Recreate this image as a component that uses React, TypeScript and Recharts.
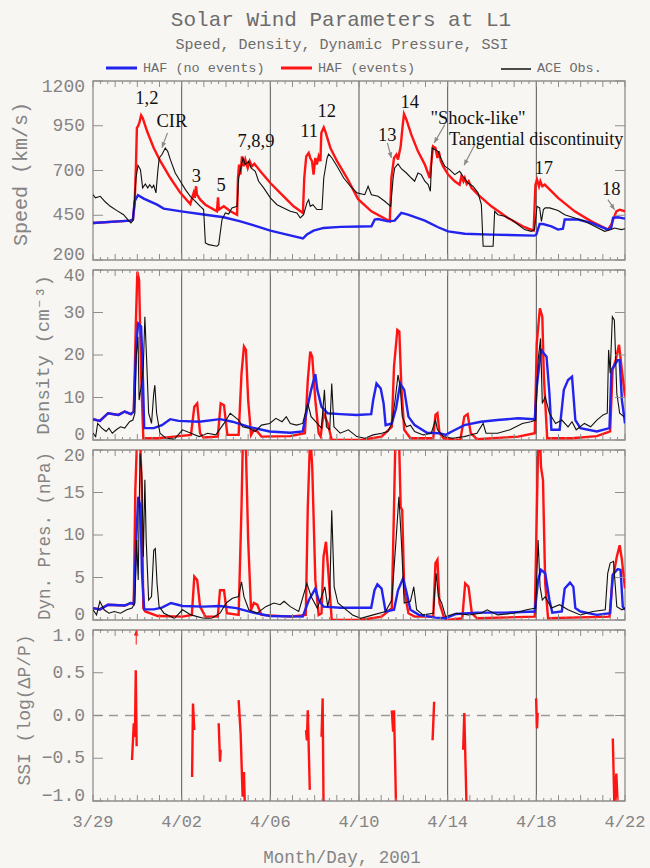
import {
  LineChart,
  Line,
  XAxis,
  YAxis,
  ReferenceLine,
  ReferenceArea,
  ReferenceDot,
} from 'recharts';

// x = days since 3/29 00:00 UT, 2001
const SPEED_NO_EVENTS: [number, number][] = [
  [0, 407], [1.68, 420], [1.8, 425], [1.88, 528], [2.03, 562], [2.29, 543], [2.89, 509], [3.19, 487],
  [3.98, 472], [4.99, 454], [5.9, 439], [6.65, 416], [7.4, 388], [8.0, 364], [8.75, 342], [9.47, 320],
  [9.65, 342], [9.95, 364], [10.4, 379], [11.16, 385], [12.06, 387], [12.56, 388], [12.71, 426],
  [12.86, 429], [13.31, 416], [13.61, 420], [13.91, 463], [14.21, 454], [14.97, 420], [15.57, 383],
  [16.02, 360], [16.77, 347], [17.97, 342], [19.92, 336], [20.0, 342], [20.15, 401], [20.3, 401],
  [20.68, 388], [20.98, 370], [21.2, 375], [21.28, 426], [21.88, 426], [22.48, 407], [23.23, 370],
  [23.38, 379], [23.46, 435], [23.68, 439], [24, 431],
];

const SPEED_EVENTS: [number, number][] = [
  [0, 407], [1.68, 420], [1.8, 425], [1.88, 519], [1.94, 733], [1.98, 938], [2.03, 947], [2.09, 966],
  [2.17, 1008], [2.24, 994], [2.44, 919], [2.74, 826], [3.04, 752], [3.49, 658], [3.94, 575], [4.39, 513],
  [4.47, 547], [4.54, 575], [4.59, 547], [4.65, 612], [4.69, 565], [4.84, 537], [5.07, 509], [5.59, 472],
  [5.64, 550], [5.68, 482], [5.9, 500], [6.2, 472], [6.5, 453], [6.54, 658], [6.59, 733], [6.65, 677],
  [6.72, 779], [6.8, 724], [6.87, 761], [6.98, 714], [7.07, 752], [7.17, 724], [7.28, 737], [7.55, 696],
  [8.0, 630], [8.6, 556], [9.05, 500], [9.47, 463], [9.53, 658], [9.62, 779], [9.73, 798], [9.8, 770],
  [9.88, 752], [9.95, 677], [10.03, 770], [10.1, 733], [10.18, 779], [10.26, 752], [10.3, 910],
  [10.41, 941], [10.48, 919], [10.71, 826], [11.01, 752], [11.46, 658], [11.96, 540], [12.56, 472],
  [13.39, 416], [13.46, 658], [13.58, 770], [13.69, 789], [13.76, 761], [13.88, 835], [13.96, 938],
  [14.03, 1016], [14.14, 984], [14.36, 900], [14.66, 807], [14.97, 733], [15.19, 658], [15.27, 752],
  [15.34, 835], [15.45, 826], [15.54, 770], [15.6, 807], [15.69, 752], [15.79, 724], [16.02, 677],
  [16.32, 640], [16.54, 621], [16.62, 668], [16.71, 640], [16.77, 658], [16.86, 625], [16.95, 640],
  [17.07, 603], [17.37, 565], [17.97, 500], [18.72, 435], [19.47, 383], [19.88, 364], [19.96, 621],
  [20.03, 649], [20.12, 612], [20.18, 640], [20.27, 612], [20.38, 621], [20.98, 547], [21.73, 472],
  [22.48, 416], [23.23, 370], [23.38, 398], [23.61, 472], [23.76, 481], [24, 472],
];

const SPEED_ACE: [number, number][] = [
  [0, 565], [0.11, 547], [0.33, 556], [0.56, 524], [0.78, 500], [1.08, 476], [1.38, 453], [1.61, 420],
  [1.71, 407], [1.8, 420], [1.86, 509], [1.94, 658], [2.03, 729], [2.14, 705], [2.24, 603], [2.36, 625],
  [2.47, 603], [2.56, 621], [2.66, 603], [2.74, 617], [2.84, 575], [2.93, 705], [2.99, 770], [3.11, 789],
  [3.26, 826], [3.37, 807], [3.49, 761], [3.71, 686], [3.94, 640], [4.17, 593], [4.39, 556], [4.62, 528],
  [4.84, 500], [4.99, 482], [5.07, 295], [5.22, 286], [5.59, 277], [5.67, 286], [5.82, 426], [5.97, 463],
  [6.12, 457], [6.27, 491], [6.5, 500], [6.57, 658], [6.65, 705], [6.77, 770], [6.87, 733], [7.02, 752],
  [7.13, 714], [7.32, 696], [7.47, 640], [7.7, 603], [8.0, 547], [8.3, 509], [8.6, 491], [8.9, 472],
  [9.2, 463], [9.35, 435], [9.5, 453], [9.65, 519], [9.73, 537], [9.8, 500], [9.92, 509], [10.1, 482],
  [10.33, 482], [10.41, 658], [10.56, 770], [10.63, 792], [10.78, 770], [11.01, 724], [11.31, 658],
  [11.61, 612], [11.91, 575], [12.26, 565], [12.41, 612], [12.56, 565], [12.86, 556], [13.16, 528],
  [13.43, 500], [13.54, 658], [13.61, 714], [13.76, 737], [13.91, 710], [14.14, 686], [14.36, 658],
  [14.51, 640], [14.66, 686], [14.81, 677], [14.97, 640], [15.12, 621], [15.22, 584], [15.3, 826],
  [15.42, 817], [15.57, 807], [15.72, 761], [15.87, 724], [16.09, 705], [16.32, 677], [16.54, 696],
  [16.69, 668], [16.92, 630], [17.14, 612], [17.37, 575], [17.52, 509], [17.6, 277], [18.05, 277],
  [18.12, 472], [18.27, 453], [18.57, 444], [18.87, 426], [19.17, 398], [19.47, 370], [19.77, 360],
  [19.92, 370], [20.03, 500], [20.15, 491], [20.23, 416], [20.32, 482], [20.4, 491], [20.6, 491],
  [20.98, 476], [21.28, 453], [21.73, 435], [22.18, 416], [22.63, 388], [23.08, 360], [23.38, 370],
  [23.53, 379], [23.83, 370], [24, 375],
];

const DENS_NO_EVENTS: [number, number][] = [
  [0, 4.9], [0.31, 4.5], [0.68, 6.3], [1.15, 5.9], [1.43, 6.7], [1.71, 6.1], [1.84, 6.7], [1.95, 22.7],
  [2.04, 27.4], [2.17, 26.7], [2.23, 18.8], [2.31, 2.8], [2.74, 2.8], [3.11, 3.5], [3.48, 4.9], [3.86, 4.5],
  [4.79, 4.3], [5.73, 4.9], [6.29, 4.3], [7.03, 3.1], [7.97, 2.0], [8.9, 1.7], [9.46, 2.0], [9.65, 7.1],
  [9.84, 11.8], [10.03, 15.5], [10.12, 11.8], [10.31, 7.8], [10.59, 6.3], [11.15, 6.1], [11.9, 5.9],
  [12.55, 6.1], [12.64, 9.4], [12.79, 13.3], [12.98, 12.1], [13.11, 8.6], [13.2, 3.5], [13.48, 3.9],
  [13.67, 7.4], [13.86, 13.3], [14.04, 11.8], [14.23, 5.5], [14.51, 3.5], [15.07, 1.7], [15.63, 1.6],
  [15.91, 1.2], [16.19, 2.0], [16.75, 3.5], [17.5, 4.3], [18.25, 4.7], [19.18, 5.1], [19.93, 4.9],
  [20.02, 12.5], [20.21, 21.2], [20.46, 19.6], [20.59, 11], [20.68, 2.4], [21.05, 2.4], [21.24, 11.8],
  [21.43, 14.1], [21.61, 14.9], [21.76, 4.7], [21.99, 2.8], [22.73, 2.0], [23.3, 2.8], [23.39, 16.5],
  [23.67, 18.8], [23.76, 18.8], [23.86, 9.4], [24, 3.9],
];

const DENS_EVENTS: [number, number][] = [
  [0, 4.9], [0.31, 4.5], [0.68, 6.3], [1.15, 5.9], [1.43, 6.7], [1.71, 6.1], [1.84, 6.7], [1.93, 26.7],
  [2.0, 39.6], [2.08, 37.6], [2.17, 15.7], [2.27, 0.4], [2.92, 0.4], [3.67, 0.8], [4.42, 1.2], [4.57, 7.8],
  [4.7, 8.6], [4.83, 1.6], [4.98, 0.6], [5.63, 0.8], [5.76, 8.6], [5.91, 8.2], [6.06, 1.2], [6.57, 1.2],
  [6.7, 15.7], [6.81, 22], [6.9, 21.2], [7.0, 9.4], [7.13, 1.2], [7.26, 2.4], [7.41, 2.0], [7.6, 0.8],
  [8.9, 0.9], [9.56, 1.6], [9.69, 14.1], [9.8, 20.8], [9.89, 19.6], [10.03, 9.4], [10.18, 1.6],
  [10.27, 0.8], [10.4, 6.3], [10.59, 3.9], [10.77, 0], [12.08, 0], [13.02, 0.8], [13.48, 3.1],
  [13.58, 17.3], [13.73, 25.9], [13.82, 25.5], [13.91, 12.5], [14.04, 2.4], [14.32, 0.4], [15.35, 0.4],
  [15.45, 5.9], [15.54, 6.3], [15.63, 1.6], [15.82, 0.4], [16.57, 0], [16.75, 5.5], [16.9, 6.1],
  [17.04, 1.6], [17.32, 0.2], [19.18, 0.8], [19.93, 1.6], [20.02, 22.7], [20.16, 31], [20.27, 29],
  [20.34, 14.9], [20.49, 0.4], [21.61, 0.4], [22.73, 0.9], [23.33, 2.0], [23.44, 16.5], [23.58, 18.8],
  [23.73, 22.4], [23.86, 16.5], [24, 10.2],
];

const DENS_ACE: [number, number][] = [
  [0, 1.6], [0.12, 0.8], [0.21, 3.9], [0.4, 2.8], [0.59, 2.0], [0.72, 2.8], [0.87, 1.6], [1.05, 2.4],
  [1.24, 3.1], [1.43, 2.8], [1.65, 4.3], [1.8, 4.7], [1.89, 6.3], [1.95, 19.6], [2.03, 24.3], [2.08, 9.4],
  [2.17, 12.5], [2.27, 17.3], [2.34, 29], [2.42, 18.8], [2.51, 6.3], [2.64, 3.9], [2.74, 11], [2.79, 12.9],
  [2.87, 6.3], [3.02, 1.6], [3.3, 0.4], [3.67, 0.2], [4.04, 2.4], [4.42, 1.6], [4.79, 0.8], [5.17, 1.6],
  [5.54, 1.2], [5.91, 3.9], [6.19, 6.3], [6.38, 5.5], [6.57, 4.7], [6.75, 3.1], [7.03, 2.8], [7.32, 2.0],
  [7.6, 3.5], [7.97, 3.9], [8.25, 5.1], [8.53, 4.3], [8.72, 5.5], [8.9, 3.9], [9.18, 3.5], [9.46, 3.9],
  [9.69, 8.6], [9.84, 5.5], [10.12, 3.9], [10.31, 2.8], [10.44, 11.8], [10.53, 3.1], [10.68, 2.4],
  [10.77, 13.3], [10.87, 3.1], [11.15, 1.6], [11.52, 2.4], [11.9, 0.8], [12.27, 0.4], [12.64, 1.2],
  [13.02, 1.6], [13.3, 2.0], [13.48, 3.9], [13.63, 9.4], [13.76, 15.3], [13.86, 12.5], [13.95, 5.5],
  [14.14, 3.1], [14.32, 3.5], [14.51, 2.0], [14.89, 1.2], [15.26, 1.6], [15.45, 4.7], [15.54, 2.4],
  [15.82, 0.8], [16.19, 0.4], [16.75, 0.8], [17.32, 1.6], [17.6, 3.9], [17.73, 1.6], [18.25, 1.6],
  [18.81, 2.4], [19.37, 3.9], [19.75, 4.3], [19.97, 4.7], [20.08, 18.8], [20.19, 23.9], [20.27, 8.6],
  [20.4, 10.2], [20.59, 6.3], [20.87, 3.9], [21.15, 4.7], [21.43, 3.1], [21.61, 4.3], [21.8, 2.4],
  [22.17, 3.9], [22.45, 3.1], [22.73, 4.7], [23.01, 5.9], [23.2, 6.3], [23.26, 21.2], [23.33, 15.7],
  [23.43, 29], [23.52, 28.2], [23.63, 11], [23.76, 6.3], [23.95, 5.5],
];

const PRES_NO_EVENTS: [number, number][] = [
  [0, 1.4], [0.31, 1.25], [0.68, 1.8], [1.43, 1.7], [1.71, 2.0], [1.84, 1.9], [1.95, 9.4], [2.04, 14.5],
  [2.14, 13.3], [2.21, 5.5], [2.31, 1.25], [2.74, 1.25], [3.11, 1.45], [3.52, 2.0], [4.04, 1.65],
  [4.98, 1.57], [5.73, 1.65], [6.47, 1.4], [7.22, 0.87], [7.97, 0.47], [9.46, 0.4], [9.74, 2.35],
  [10.03, 3.7], [10.18, 2.35], [10.4, 1.57], [11.15, 1.45], [12.55, 1.45], [12.7, 3.5], [12.83, 4.2],
  [13.02, 3.7], [13.2, 1.0], [13.58, 1.2], [13.76, 3.5], [13.99, 4.9], [14.14, 3.3], [14.32, 1.2],
  [14.7, 0.6], [15.45, 0.28], [15.91, 0.2], [16.38, 0.71], [17.32, 0.87], [18.62, 0.87], [19.93, 1.0],
  [20.08, 4.7], [20.21, 5.9], [20.4, 5.5], [20.59, 2.35], [20.72, 0.87], [21.15, 1.0], [21.28, 3.7],
  [21.52, 4.4], [21.67, 3.9], [21.76, 1.4], [21.99, 1.0], [22.73, 0.6], [23.33, 0.8], [23.44, 5.3],
  [23.67, 6.0], [23.8, 5.9], [23.9, 1.57], [24, 1.2],
];

const PRES_EVENTS: [number, number][] = [
  [0, 1.4], [0.31, 1.25], [0.68, 1.8], [1.43, 1.7], [1.71, 2.0], [1.84, 1.9], [1.91, 15.3], [1.97, 20],
  [2.03, 25], [2.12, 22], [2.2, 15.3], [2.27, 1.4], [2.36, 1.0], [2.92, 0.47], [4.04, 0.4], [4.46, 0.6],
  [4.57, 5.1], [4.7, 4.7], [4.83, 1.57], [5.07, 0.4], [5.63, 0.4], [5.73, 3.5], [5.91, 3.5], [6.04, 0.8],
  [6.57, 0.6], [6.7, 13.3], [6.79, 25], [6.88, 22], [7.0, 9.4], [7.13, 1.2], [7.26, 2.0], [7.41, 1.8],
  [7.6, 0.6], [8.9, 0.4], [9.6, 0.6], [9.69, 13.3], [9.8, 22], [9.89, 18], [10.03, 4.7], [10.18, 0.6],
  [10.31, 0.8], [10.4, 7.45], [10.51, 9.2], [10.62, 5.5], [10.77, 0], [12.08, 0], [13.02, 0.4],
  [13.48, 1.4], [13.58, 13.3], [13.67, 25], [13.8, 22], [13.88, 13.3], [13.95, 12.9], [14.04, 3.5],
  [14.23, 0.8], [14.51, 0.4], [15.35, 0.4], [15.45, 6.7], [15.54, 7.1], [15.63, 2.0], [15.82, 0.4],
  [16.01, 0], [16.66, 0.2], [16.79, 4.3], [16.94, 3.9], [17.09, 0.8], [17.32, 0.2], [19.93, 0.4],
  [20.04, 15.3], [20.12, 25], [20.21, 18], [20.3, 16.5], [20.4, 4.3], [20.53, 0.2], [23.3, 0.4],
  [23.44, 4.7], [23.63, 7.45], [23.76, 8.8], [23.86, 7.1], [24, 3.7],
];

const PRES_ACE: [number, number][] = [
  [0, 1.2], [0.16, 0.6], [0.31, 2.2], [0.5, 1.2], [0.72, 0.8], [0.96, 1.0], [1.24, 0.8], [1.52, 1.2],
  [1.76, 1.4], [1.89, 2.0], [1.97, 9.4], [2.04, 4.7], [2.12, 19.6], [2.2, 17.3], [2.27, 7.45], [2.34, 16.5],
  [2.4, 9.4], [2.51, 2.35], [2.64, 2.75], [2.74, 8.2], [2.81, 8.4], [2.89, 4.3], [2.98, 1.57], [3.2, 0.8],
  [3.67, 0.2], [4.04, 1.2], [4.42, 0.6], [4.98, 0.2], [5.35, 0.2], [5.73, 0.8], [6.01, 2.0], [6.29, 2.55],
  [6.57, 2.75], [6.7, 4.5], [6.81, 2.75], [7.03, 1.2], [7.41, 0.8], [7.79, 1.57], [8.16, 2.0], [8.44, 1.8],
  [8.62, 2.2], [8.9, 1.57], [9.28, 1.0], [9.65, 4.3], [9.84, 2.75], [10.12, 1.4], [10.31, 2.75],
  [10.46, 3.9], [10.59, 1.57], [10.68, 2.75], [10.77, 12.9], [10.88, 3.9], [11.05, 2.0], [11.33, 1.4],
  [11.71, 0.6], [12.08, 0.2], [12.64, 0.6], [13.2, 1.0], [13.48, 2.35], [13.67, 9.4], [13.8, 14.5],
  [13.91, 9.4], [14.04, 2.0], [14.32, 2.2], [14.47, 3.9], [14.6, 1.2], [14.89, 0.6], [15.35, 0.8],
  [15.48, 5.5], [15.58, 2.75], [15.73, 2.0], [15.91, 0.4], [16.38, 0.8], [16.94, 0.6], [17.5, 0.8],
  [17.78, 1.2], [18.25, 0.6], [18.99, 0.8], [19.56, 1.2], [19.97, 1.4], [20.08, 9.4], [20.17, 3.9],
  [20.27, 2.35], [20.4, 2.75], [20.68, 1.4], [21.05, 1.8], [21.43, 1.2], [21.99, 0.6], [22.55, 1.0],
  [23.11, 1.2], [23.22, 5.5], [23.33, 6.7], [23.48, 6.9], [23.63, 1.57], [23.86, 1.2], [24, 1.4],
];

// SSI: one short trace per event
const SSI_EVENTS: [number, number][][] = [
  [[1.76, -0.52], [1.84, -0.09], [1.89, -0.25], [1.93, 0.53], [1.97, -0.36]],
  [[4.47, -0.72], [4.51, 0.14], [4.57, -0.17]],
  [[5.67, -0.09], [5.73, -0.54], [5.76, -0.4]],
  [[6.57, 0.18], [6.66, -0.21], [6.75, -0.95], [6.81, -0.66], [6.85, -1.05]],
  [[9.61, -0.17], [9.65, -0.29], [9.69, 0.06], [9.78, -0.87]],
  [[10.31, -0.25], [10.36, 0.2], [10.4, -1.05]],
  [[13.48, 0.06], [13.54, -0.19], [13.58, 0.06], [13.67, -1.05]],
  [[15.32, -0.29], [15.39, 0.16]],
  [[16.7, -0.4], [16.75, 0.03], [16.85, -1.05]],
  [[19.99, 0.2], [20.03, -0.15], [20.06, 0.03]],
  [[23.45, -0.27], [23.52, -1.05], [23.61, -0.68], [23.67, -1.05]],
];
const SSI_OFFSCALE = [1.95, 0.83, 1.0];

const DAY_LINES = [4, 8, 12, 16, 20];
const DATE_DAYS = [0, 4, 8, 12, 16, 20, 24];
const DATE_LABELS = ['3/29', '4/02', '4/06', '4/10', '4/14', '4/18', '4/22'];
const X_TICKS = Array.from({ length: 73 }, (_, i) => i / 3);

const SPEED_TICKS = [200, 450, 700, 950, 1200];
const DENS_TICKS = [0, 10, 20, 30, 40];
const PRES_TICKS = [0, 5, 10, 15, 20];
const SSI_TICKS = [-1, -0.5, 0, 0.5, 1];
const SSI_TICK_LABELS = ['\u22121.0', '\u22120.5', '0.0', '0.5', '1.0'];

// speed-panel annotations: [day, km/s, text]
const SPEED_NOTES: [number, number, string][] = [
  [2.43, 1105, '1,2'], [3.56, 975, 'CIR'], [4.66, 671, '3'], [5.78, 617, '5'], [7.35, 866, '7,8,9'],
  [9.75, 919, '11'], [10.55, 1031, '12'], [13.28, 900, '13'], [14.29, 1081, '14'],
  [17.37, 993, '"Shock-like"'], [20.33, 714, '17'], [23.38, 597, '18'],
];
const TANGENTIAL_NOTE: [number, number, string] = [16.06, 876, 'Tangential discontinuity'];
// arrows: [day0, v0, day1, v1] (head at the second point)
const SPEED_ARROWS: [number, number, number, number][] = [
  [3.36, 910, 3.11, 827], [13.28, 854, 13.46, 770], [15.87, 956, 15.39, 854],
  [17.22, 844, 16.74, 729], [23.23, 537, 23.53, 481],
];

const BG = '#f8f6f3';
const FRAME = '#8e8e8e';
const GRID = '#555555';
const TXT = '#848484';
const BLUE = '#2323ee';
const RED = '#ff1414';
const MONO = '"Liberation Mono", "DejaVu Sans Mono", monospace';
const SERIF = '"Liberation Serif", "DejaVu Serif", serif';

const W = 650;
const LEFT = 93;
const RIGHT = 25;
const PLOT_W = W - LEFT - RIGHT;
const MT = 10;

const toPts = (arr: [number, number][]) => arr.map(([d, v]) => ({ d, v }));

interface PanelCfg {
  top: number;
  h: number;
  domain: [number, number];
  ticks: number[];
  labels?: string[];
}

const P_SPEED: PanelCfg = { top: 81, h: 179, domain: [200, 1200], ticks: SPEED_TICKS };
const P_DENS: PanelCfg = { top: 270, h: 170, domain: [0, 40], ticks: DENS_TICKS };
const P_PRES: PanelCfg = { top: 450, h: 170, domain: [0, 20], ticks: PRES_TICKS };
const P_SSI: PanelCfg = { top: 630, h: 171, domain: [-1, 1], ticks: SSI_TICKS, labels: SSI_TICK_LABELS };

function XTick(props: any) {
  const { x, y, payload, h, last } = props;
  const v = payload.value as number;
  const i = Math.round(v * 3);
  const len = i % 3 === 0 ? 6 : 3;
  const di = DATE_DAYS.findIndex((d) => Math.abs(d - v) < 1e-6);
  return (
    <g>
      <line x1={x} x2={x} y1={y} y2={y - len} stroke={FRAME} strokeWidth={1} />
      <line x1={x} x2={x} y1={y - h} y2={y - h + len} stroke={FRAME} strokeWidth={1} />
      {last && di >= 0 && (
        <text x={x} y={y + 21} textAnchor="middle" dominantBaseline="central" fill={TXT} fontFamily={MONO} fontSize={17}>
          {DATE_LABELS[di]}
        </text>
      )}
    </g>
  );
}

function YTick(props: any) {
  const { x, y, payload, cfg } = props;
  const v = payload.value as number;
  const idx = cfg.ticks.indexOf(v);
  const text = cfg.labels ? cfg.labels[idx] : String(v);
  let dy = 0;
  if (idx === cfg.ticks.length - 1) dy = 6;
  if (idx === 0) dy = -5;
  return (
    <g>
      <line x1={x} x2={x + 10} y1={y} y2={y} stroke={FRAME} strokeWidth={1} />
      <line x1={x + PLOT_W - 10} x2={x + PLOT_W} y1={y} y2={y} stroke={FRAME} strokeWidth={1} />
      <text x={x - 8} y={y + dy} textAnchor="end" dominantBaseline="central" fill={TXT} fontFamily={MONO} fontSize={18}>
        {text}
      </text>
    </g>
  );
}

const arrowShape = (color: string, width: number) => (p: any) => {
  const { x1, y1, x2, y2 } = p;
  const a = Math.atan2(y2 - y1, x2 - x1);
  const hl = 6;
  const ha = 0.4;
  const pts = `${x2},${y2} ${x2 - hl * Math.cos(a - ha)},${y2 - hl * Math.sin(a - ha)} ${x2 - hl * Math.cos(a + ha)},${y2 - hl * Math.sin(a + ha)}`;
  return (
    <g>
      <line x1={x1} y1={y1} x2={x2} y2={y2} stroke={color} strokeWidth={width} />
      <polygon points={pts} fill={color} stroke="none" />
    </g>
  );
};

function Panel({ cfg, last, children }: { cfg: PanelCfg; last?: boolean; children: any }) {
  const mb = last ? 60 : 12;
  // axes are 1px wide/tall (zero-size axes are not drawn), so margins give back that pixel
  return (
    <div style={{ position: 'absolute', left: 0, top: cfg.top - MT }}>
      <LineChart width={W} height={MT + cfg.h + mb} margin={{ top: MT, right: RIGHT, bottom: mb - 1, left: LEFT - 1 }}>
        <XAxis
          type="number"
          dataKey="d"
          domain={[0, 24]}
          ticks={X_TICKS}
          interval={0}
          height={1}
          axisLine={false}
          tickLine={false}
          tickSize={0}
          tickMargin={0}
          allowDataOverflow
          tick={(p: any) => <XTick {...p} h={cfg.h} last={last} />}
        />
        <YAxis
          type="number"
          domain={cfg.domain}
          ticks={cfg.ticks}
          interval={0}
          width={1}
          axisLine={false}
          tickLine={false}
          tickSize={0}
          tickMargin={0}
          allowDataOverflow
          tick={(p: any) => <YTick {...p} cfg={cfg} />}
        />
        {DAY_LINES.map((d) => (
          <ReferenceLine key={d} x={d} stroke={GRID} strokeWidth={1} />
        ))}
        <ReferenceArea
          x1={0}
          x2={24}
          y1={cfg.domain[0]}
          y2={cfg.domain[1]}
          fill="none"
          fillOpacity={0}
          stroke={FRAME}
          strokeWidth={1.3}
          ifOverflow="visible"
        />
        {children}
      </LineChart>
    </div>
  );
}

const series = (data: [number, number][], color: string, width: number, key: string) => (
  <Line
    key={key}
    data={toPts(data)}
    dataKey="v"
    type="linear"
    stroke={color}
    strokeWidth={width}
    dot={false}
    activeDot={false}
    isAnimationActive={false}
  />
);

export default function App() {
  return (
    <div style={{ position: 'absolute', left: 0, top: 0, width: W, height: 868, background: BG, overflow: 'hidden' }}>
      <svg width={W} height={868} style={{ position: 'absolute', left: 0, top: 0 }}>
        <text x={341} y={20} textAnchor="middle" dominantBaseline="central" fill="#6c6c6c" fontFamily={MONO} fontSize={21}>
          Solar Wind Parameters at L1
        </text>
        <text x={342} y={45} textAnchor="middle" dominantBaseline="central" fill="#6c6c6c" fontFamily={MONO} fontSize={15}>
          Speed, Density, Dynamic Pressure, SSI
        </text>
        <line x1={106} x2={137} y1={68} y2={68} stroke={BLUE} strokeWidth={3} />
        <text x={143} y={68} dominantBaseline="central" fill="#6c6c6c" fontFamily={MONO} fontSize={13.5}>
          HAF (no events)
        </text>
        <line x1={281} x2={312} y1={68} y2={68} stroke={RED} strokeWidth={3} />
        <text x={318} y={68} dominantBaseline="central" fill="#6c6c6c" fontFamily={MONO} fontSize={13.5}>
          HAF (events)
        </text>
        <line x1={501} x2={531} y1={69} y2={69} stroke="#111" strokeWidth={1.5} />
        <text x={537} y={68} dominantBaseline="central" fill="#6c6c6c" fontFamily={MONO} fontSize={13.5}>
          ACE Obs.
        </text>
        <text transform="translate(21,174) rotate(-90)" textAnchor="middle" dominantBaseline="central" fill={TXT} fontFamily={MONO} fontSize={20}>
          Speed (km/s)
        </text>
        <text transform="translate(44,355) rotate(-90)" textAnchor="middle" dominantBaseline="central" fill={TXT} fontFamily={MONO} fontSize={19}>
          Density (cm⁻³)
        </text>
        <text transform="translate(45,536) rotate(-90)" textAnchor="middle" dominantBaseline="central" fill={TXT} fontFamily={MONO} fontSize={17.5}>
          Dyn. Pres. (nPa)
        </text>
        <text transform="translate(25,710) rotate(-90)" textAnchor="middle" dominantBaseline="central" fill={TXT} fontFamily={MONO} fontSize={18}>
          SSI (log(ΔP/P)
        </text>
        <text x={342} y={858} textAnchor="middle" dominantBaseline="central" fill={TXT} fontFamily={MONO} fontSize={17.5}>
          Month/Day, 2001
        </text>
      </svg>

      <Panel cfg={P_SPEED}>
        {series(SPEED_EVENTS, RED, 2.4, 'r')}
        {series(SPEED_NO_EVENTS, BLUE, 2.4, 'b')}
        {series(SPEED_ACE, '#111', 1.1, 'k')}
        {SPEED_ARROWS.map(([d0, v0, d1, v1], i) => (
          <ReferenceLine
            key={'a' + i}
            segment={[{ x: d0, y: v0 }, { x: d1, y: v1 }]}
            stroke="#888"
            ifOverflow="visible"
            shape={arrowShape('#8a8a8a', 1.2)}
          />
        ))}
        {SPEED_NOTES.map(([d, v, t]) => (
          <ReferenceDot
            key={t}
            x={d}
            y={v}
            r={0}
            ifOverflow="visible"
            shape={(p: any) => (
              <text x={p.cx} y={p.cy} textAnchor="middle" dominantBaseline="central" fill="#111" fontFamily={SERIF} fontSize={18.5}>
                {t}
              </text>
            )}
          />
        ))}
        <ReferenceDot
          x={TANGENTIAL_NOTE[0]}
          y={TANGENTIAL_NOTE[1]}
          r={0}
          ifOverflow="visible"
          shape={(p: any) => (
            <text x={p.cx} y={p.cy} textAnchor="start" dominantBaseline="central" fill="#111" fontFamily={SERIF} fontSize={18}>
              {TANGENTIAL_NOTE[2]}
            </text>
          )}
        />
      </Panel>

      <Panel cfg={P_DENS}>
        {series(DENS_EVENTS, RED, 2.4, 'r')}
        {series(DENS_NO_EVENTS, BLUE, 2.4, 'b')}
        {series(DENS_ACE, '#111', 1.1, 'k')}
      </Panel>

      <Panel cfg={P_PRES}>
        {series(PRES_EVENTS, RED, 2.4, 'r')}
        {series(PRES_NO_EVENTS, BLUE, 2.4, 'b')}
        {series(PRES_ACE, '#111', 1.1, 'k')}
      </Panel>

      <Panel cfg={P_SSI} last>
        <ReferenceLine y={0} stroke="#9a9a9a" strokeWidth={1.5} strokeDasharray="9 7" />
        {SSI_EVENTS.map((seg, i) => series(seg, RED, 2.4, 's' + i))}
        <ReferenceLine
          segment={[{ x: SSI_OFFSCALE[0], y: SSI_OFFSCALE[1] }, { x: SSI_OFFSCALE[0], y: SSI_OFFSCALE[2] }]}
          stroke={RED}
          ifOverflow="visible"
          shape={arrowShape(RED, 1)}
        />
      </Panel>
    </div>
  );
}
